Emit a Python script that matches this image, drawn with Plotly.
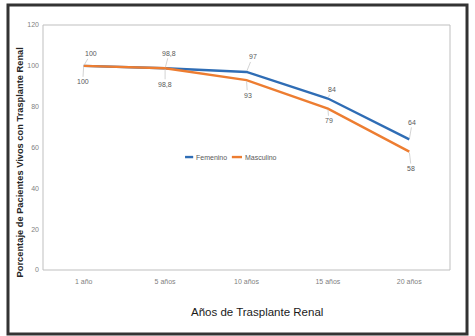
import plotly.graph_objects as go

categories = ["1 año", "5 años", "10 años", "15 años", "20 años"]
femenino = [100, 98.8, 97, 84, 64]
masculino = [100, 98.8, 93, 79, 58]
y_ticks = [0, 20, 40, 60, 80, 100, 120]
series_names = ["Femenino", "Masculino"]

BLUE = "#2F6DB5"
ORANGE = "#ED7D31"
NARROW = "Liberation Sans Narrow, Liberation Sans"

def fmt(v):
    return (f"{v:g}").replace(".", ",")

fig = go.Figure()
fig.add_trace(go.Scatter(x=categories, y=femenino, mode="lines", name=series_names[0],
                         line=dict(color=BLUE, width=2.4), hoverinfo="skip"))
fig.add_trace(go.Scatter(x=categories, y=masculino, mode="lines", name=series_names[1],
                         line=dict(color=ORANGE, width=2.4), hoverinfo="skip"))

fem_off = [(7, -12), (4, -15), (6, -15), (4, -9), (3, -17)]
mas_off = [(-1, 16), (0, 16), (1, 15), (1, 12), (2, 17)]
ann = []
for vals, offs in ((femenino, fem_off), (masculino, mas_off)):
    for c, v, (ax, ay) in zip(categories, vals, offs):
        ann.append(dict(x=c, y=v, text=fmt(v), showarrow=True, ax=ax, ay=ay,
                        arrowhead=0, arrowwidth=0.8, arrowcolor="#c8c8c8", standoff=1,
                        font=dict(size=7, color="#595959", family=NARROW)))

ann.append(dict(xref="paper", yref="paper", x=-0.056, y=0.44, showarrow=False,
                xanchor="center", yanchor="middle",
                text="Porcentaje de Pacientes Vivos con Trasplante Renal", textangle=-90,
                font=dict(size=9.3, color="#262626", family="Liberation Sans", weight="bold")))
ann.append(dict(xref="paper", yref="paper", x=0.526, y=-0.171, showarrow=False,
                xanchor="center", yanchor="middle",
                text="Años de Trasplante Renal",
                font=dict(size=11.5, color="#1a1a1a", family=NARROW)))

# manual compact legend (Excel style short keys)
legend_keys = [(0.349, 0.369, BLUE), (0.464, 0.489, ORANGE)]
shapes = [
    dict(type="rect", xref="paper", yref="paper", x0=-0.086, x1=1.0418,
         y0=-0.261, y1=1.0816, line=dict(color="#333333", width=3)),
    dict(type="rect", xref="paper", yref="paper", x0=0, x1=1, y0=0, y1=1,
         line=dict(color="#bfbfbf", width=1)),
]
for (x0, x1, col), name in zip(legend_keys, series_names):
    shapes.append(dict(type="line", xref="paper", yref="paper", x0=x0, x1=x1,
                       y0=0.461, y1=0.461, line=dict(color=col, width=2.4)))
    ann.append(dict(xref="paper", yref="paper", x=x1 + 0.003, y=0.461, text=name,
                    showarrow=False, xanchor="left", yanchor="middle",
                    font=dict(size=7, color="#595959", family=NARROW)))

fig.update_layout(
    width=475, height=336,
    margin=dict(l=43, r=25, t=25, b=66),
    paper_bgcolor="white", plot_bgcolor="white",
    showlegend=False,
    annotations=ann,
    shapes=shapes,
)
fig.update_xaxes(type="category", range=[-0.5, 4.5], showgrid=False, zeroline=False,
                 showline=False, ticks="", ticklabelstandoff=6,
                 tickfont=dict(size=7, color="#7f7f7f", family=NARROW))
fig.update_yaxes(range=[0, 120], tickvals=y_ticks, showgrid=False, zeroline=False,
                 showline=False, ticks="", ticklabelstandoff=3,
                 tickfont=dict(size=7, color="#7f7f7f", family=NARROW))

fig.write_html("out.html", config={"displayModeBar": False},
               post_script="document.body.style.margin='0px';")
